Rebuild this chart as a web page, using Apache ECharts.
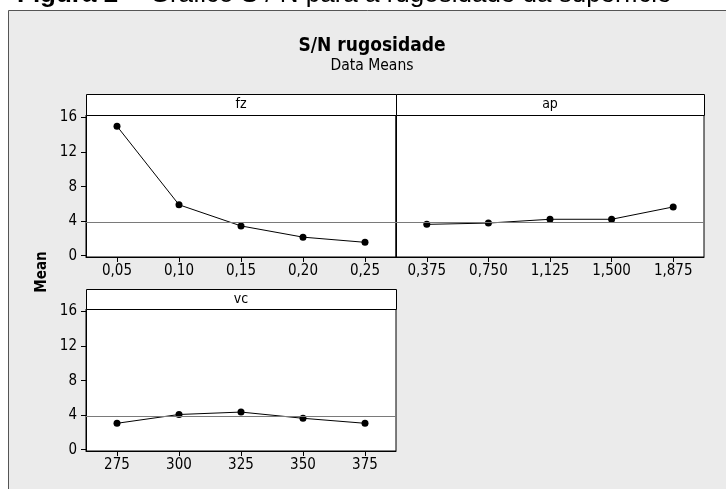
<!DOCTYPE html>
<html><head><meta charset="utf-8">
<script src="https://cdn.jsdelivr.net/npm/echarts@6/dist/echarts.min.js"></script>
<style>html,body{margin:0;padding:0;background:#fff}#c{width:726px;height:489px}</style>
</head><body><div id="c"></div>
<script>
const fzLevels = ['0,05', '0,10', '0,15', '0,20', '0,25'];
const fzMeans = [15.0, 5.9, 3.45, 2.15, 1.55];
const apLevels = ['0,375', '0,750', '1,125', '1,500', '1,875'];
const apMeans = [3.63, 3.78, 4.22, 4.22, 5.65];
const vcLevels = ['275', '300', '325', '350', '375'];
const vcMeans = [3.06, 4.08, 4.36, 3.64, 3.06];
const overallMean = 3.9;
const yTicks = [0, 4, 8, 12, 16];
const panelNames = ['fz', 'ap', 'vc'];

const FF = "'DejaVu Sans Condensed', 'DejaVu Sans', sans-serif";
const yMin = -0.15, yMax = 16.3;
const grids = [
  {left: 86, top: 115, width: 310, height: 142},
  {left: 396, top: 115, width: 308, height: 142},
  {left: 86, top: 309, width: 310, height: 142}
];
const levels = [fzLevels, apLevels, vcLevels];
const means = [fzMeans, apMeans, vcMeans];

const chart = echarts.init(document.getElementById('c'));
const graphic = [
  {type: 'rect', z: -10, shape: {x: 8.5, y: 10.5, width: 740, height: 500},
   style: {fill: '#ebebeb', stroke: '#555', lineWidth: 1}},
  {type: 'text', x: 17, y: -5.5, style: {text: 'Figura 2', font: "bold 26px 'Liberation Sans', Arial, sans-serif", fill: '#000', verticalAlign: 'middle'}},
  {type: 'text', x: 128, y: -5.5, style: {text: '\u2013 Gráfico S / N para a rugosidade da superfície', font: "26px 'Liberation Sans', Arial, sans-serif", fill: '#000', verticalAlign: 'middle'}},
  {type: 'text', x: 372, y: 46, style: {text: 'S/N rugosidade', font: "bold 19px " + FF, fill: '#000', align: 'center', verticalAlign: 'middle'}},
  {type: 'text', x: 372, y: 66, style: {text: 'Data Means', font: "15.5px " + FF, fill: '#000', align: 'center', verticalAlign: 'middle'}},
  {type: 'text', x: 42, y: 272, rotation: Math.PI / 2, style: {text: 'Mean', font: "bold 15px " + FF, fill: '#000', align: 'center', verticalAlign: 'middle'}}
];
grids.forEach((g, i) => {
  const sh = i === 2 ? 20 : 21;
  graphic.push({type: 'rect', z: 5, shape: {x: g.left + 0.5, y: g.top - sh + 0.5, width: g.width, height: sh},
    style: {fill: '#fff', stroke: '#000', lineWidth: 1}});
  graphic.push({type: 'text', z: 6, x: g.left + g.width / 2, y: g.top - sh / 2, style: {text: panelNames[i], font: "14px " + FF, fill: '#000', align: 'center', verticalAlign: 'middle'}});
});

const option = {
  animation: false,
  backgroundColor: '#fff',
  grid: grids.map(g => Object.assign({show: true, borderColor: '#000', borderWidth: 1, backgroundColor: '#fff'}, g)),
  xAxis: levels.map((lv, i) => ({
    type: 'category', gridIndex: i, data: lv, boundaryGap: true,
    axisLine: {show: true, onZero: false, lineStyle: {color: '#000'}},
    axisTick: {show: true, alignWithLabel: true, interval: 0, length: 5, lineStyle: {color: '#000'}},
    axisLabel: {interval: 0, margin: 7, fontSize: 15, fontFamily: FF, color: '#000'},
    splitLine: {show: false}
  })),
  yAxis: levels.map((lv, i) => ({
    type: 'value', gridIndex: i, min: yMin, max: yMax,
    axisLine: {show: true, lineStyle: {color: '#000'}},
    axisTick: {show: i !== 1, customValues: yTicks, length: 5, lineStyle: {color: '#000'}},
    axisLabel: {show: i !== 1, customValues: yTicks, margin: 9, fontSize: 15, fontFamily: FF, color: '#000'},
    splitLine: {show: false}
  })),
  series: means.map((m, i) => ({
    type: 'line', xAxisIndex: i, yAxisIndex: i, data: m,
    symbol: 'circle', symbolSize: 7,
    itemStyle: {color: '#000'}, lineStyle: {color: '#000', width: 1},
    markLine: {silent: true, symbol: ['none', 'none'], label: {show: false},
      lineStyle: {color: '#7a7a7a', type: 'solid', width: 1},
      data: [{yAxis: overallMean}]}
  })),
  graphic: graphic
};
chart.setOption(option);
</script></body></html>
